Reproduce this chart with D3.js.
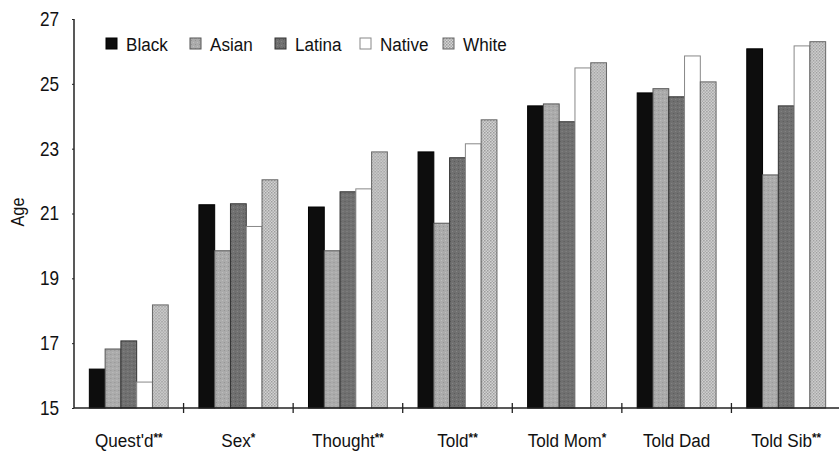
<!DOCTYPE html>
<html>
<head>
<meta charset="utf-8">
<script src="https://cdn.jsdelivr.net/npm/d3@7"></script>
<style>
  html, body { margin: 0; padding: 0; background: #fff; }
  svg { display: block; }
  text { font-family: "Liberation Sans", Arial, sans-serif; fill: #111; }
</style>
</head>
<body>
<svg id="chart" width="839" height="454"></svg>
<script>
const categories = ["Quest'd", "Sex", "Thought", "Told", "Told Mom", "Told Dad", "Told Sib"];
const categoryMarks = ["**", "*", "**", "**", "*", "", "**"];
const seriesNames = ["Black", "Asian", "Latina", "Native", "White"];
const black  = [16.2, 21.27, 21.2, 22.9, 24.32, 24.72, 26.08];
const asian  = [16.82, 19.85, 19.85, 20.7, 24.38, 24.85, 22.19];
const latina = [17.07, 21.3, 21.67, 22.72, 23.83, 24.6, 24.32];
const native = [15.8, 20.6, 21.76, 23.15, 25.49, 25.86, 26.17];
const white  = [18.18, 22.04, 22.9, 23.89, 25.65, 25.06, 26.3];
const yTicks = [15, 17, 19, 21, 23, 25, 27];
const seriesValues = [black, asian, latina, native, white];

const NARROW = 0.86;
const svg = d3.select("#chart");
const defs = svg.append("defs");

// textures
const pAsian = defs.append("pattern").attr("id", "pAsian").attr("patternUnits", "userSpaceOnUse")
  .attr("width", 4).attr("height", 4);
pAsian.append("rect").attr("width", 4).attr("height", 4).attr("fill", "#ababab");
pAsian.append("rect").attr("x", 1).attr("y", 2).attr("width", 1).attr("height", 1).attr("fill", "#939393");
pAsian.append("rect").attr("x", 3).attr("y", 0).attr("width", 1).attr("height", 1).attr("fill", "#bfbfbf");

const pLatina = defs.append("pattern").attr("id", "pLatina").attr("patternUnits", "userSpaceOnUse")
  .attr("width", 4).attr("height", 4);
pLatina.append("rect").attr("width", 4).attr("height", 4).attr("fill", "#707070");
pLatina.append("rect").attr("x", 0).attr("y", 1).attr("width", 1).attr("height", 1).attr("fill", "#5a5a5a");
pLatina.append("rect").attr("x", 2).attr("y", 3).attr("width", 1).attr("height", 1).attr("fill", "#868686");

const pWhite = defs.append("pattern").attr("id", "pWhite").attr("patternUnits", "userSpaceOnUse")
  .attr("width", 3).attr("height", 3);
pWhite.append("rect").attr("width", 3).attr("height", 3).attr("fill", "#d6d6d6");
pWhite.append("rect").attr("x", 0).attr("y", 0).attr("width", 1.5).attr("height", 1.5).attr("fill", "#999");
pWhite.append("rect").attr("x", 1.5).attr("y", 1.5).attr("width", 1.5).attr("height", 1.5).attr("fill", "#a6a6a6");

const fills = ["#0d0d0d", "url(#pAsian)", "url(#pLatina)", "#ffffff", "url(#pWhite)"];
const strokes = ["#000", "#555", "#333", "#888", "#666"];

const x0 = d3.scaleBand().domain(categories).range([74, 841]).paddingInner(0.28).paddingOuter(0.14);
const x1 = d3.scaleBand().domain(seriesNames).range([0, x0.bandwidth()]).padding(0);
const y = d3.scaleLinear().domain([15, 27]).range([408, 19]);

// bars
const groups = svg.append("g").selectAll("g").data(categories).join("g")
  .attr("transform", d => `translate(${x0(d)},0)`);
groups.selectAll("rect")
  .data((c, i) => seriesNames.map((s, j) => ({ s, j, v: seriesValues[j][i] })))
  .join("rect")
  .attr("x", d => x1(d.s))
  .attr("y", d => y(d.v))
  .attr("width", x1.bandwidth())
  .attr("height", d => y(15) - y(d.v))
  .attr("fill", d => fills[d.j])
  .attr("stroke", d => strokes[d.j])
  .attr("stroke-width", 1);

// y axis
const yAxis = d3.axisLeft(y).tickValues(yTicks).tickSize(2).tickPadding(0).tickFormat(d3.format("d"));
const gy = svg.append("g").attr("transform", "translate(74,0)").call(yAxis);
gy.select(".domain").attr("stroke", "#222").attr("stroke-width", 1.5).attr("d", "M0,19V408");
gy.selectAll(".tick line").attr("stroke", "#222");
gy.selectAll(".tick text")
  .attr("x", null)
  .attr("transform", `translate(-15,0) scale(${NARROW},1)`)
  .attr("font-size", 20).attr("fill", "#111");

// x axis
const gx = svg.append("g").attr("transform", "translate(0,408)");
gx.append("line").attr("x1", 74).attr("x2", 839).attr("y1", 0).attr("y2", 0)
  .attr("stroke", "#222").attr("stroke-width", 1.5);
const step = x0.step();
const boundaries = categories.slice(1).map(c => x0(c) - x0.paddingInner() * step / 2);
gx.selectAll("line.bt").data(boundaries).join("line").attr("class", "bt")
  .attr("x1", d => d).attr("x2", d => d).attr("y1", -5).attr("y2", 5)
  .attr("stroke", "#222").attr("stroke-width", 1.3);

const labels = gx.selectAll("text.cl").data(categories).join("text").attr("class", "cl")
  .attr("transform", d => `translate(${x0(d) + x0.bandwidth() / 2},39) scale(${NARROW + 0.04},1)`)
  .attr("text-anchor", "middle")
  .attr("font-size", 19);
labels.append("tspan").text(d => d);
labels.append("tspan").attr("font-size", 13).attr("dy", -5).attr("font-weight", "bold").text((d, i) => categoryMarks[i]);

// y label
svg.append("text").attr("transform", `translate(24,212) rotate(-90) scale(${NARROW},1)`)
  .attr("text-anchor", "middle").attr("font-size", 19).text("Age");

// legend
const legendX = [106, 190, 275, 360, 443];
const lg = svg.append("g").selectAll("g").data(seriesNames).join("g")
  .attr("transform", (d, i) => `translate(${legendX[i]},38)`);
lg.append("rect").attr("width", 11).attr("height", 11)
  .attr("fill", (d, i) => fills[i]).attr("stroke", (d, i) => strokes[i]);
lg.append("text").attr("transform", `translate(20,13) scale(${NARROW + 0.04},1)`)
  .attr("font-size", 19).text(d => d);
</script>
</body>
</html>
